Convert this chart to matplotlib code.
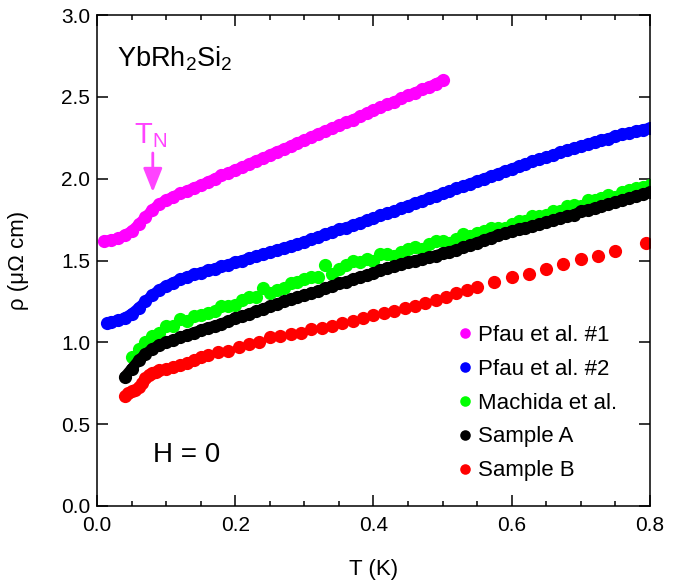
import matplotlib
matplotlib.use("Agg")
import matplotlib.pyplot as plt
from matplotlib.ticker import FormatStrFormatter

plt.rcParams["font.family"] = ["Liberation Sans", "DejaVu Sans"]
plt.rcParams["mathtext.fontset"] = "custom"
plt.rcParams["mathtext.rm"] = "Liberation Sans"

# Pfau et al. #1 (magenta)
t_pfau1 = [0.01, 0.02, 0.03, 0.04, 0.05, 0.06, 0.07, 0.08, 0.09, 0.10,
           0.11, 0.12, 0.13, 0.14, 0.15, 0.16, 0.17, 0.18, 0.19, 0.20,
           0.21, 0.22, 0.23, 0.24, 0.25, 0.26, 0.27, 0.28, 0.29, 0.30,
           0.31, 0.32, 0.33, 0.34, 0.35, 0.36, 0.37, 0.38, 0.39, 0.40,
           0.41, 0.42, 0.43, 0.44, 0.45, 0.46, 0.47, 0.48, 0.49, 0.50]
r_pfau1 = [1.62, 1.625, 1.635, 1.655, 1.68, 1.72, 1.765, 1.81, 1.845, 1.87,
           1.89, 1.91, 1.925, 1.945, 1.96, 1.98, 2.00, 2.02, 2.035, 2.055,
           2.07, 2.09, 2.11, 2.125, 2.145, 2.165, 2.18, 2.20, 2.22, 2.235,
           2.255, 2.275, 2.29, 2.31, 2.325, 2.345, 2.36, 2.38, 2.40, 2.42,
           2.435, 2.455, 2.47, 2.49, 2.51, 2.525, 2.545, 2.56, 2.58, 2.60]

# Pfau et al. #2 (blue)
t_pfau2 = [0.015, 0.02, 0.03, 0.04, 0.05, 0.06, 0.07, 0.08, 0.09, 0.10,
           0.11, 0.12, 0.13, 0.14, 0.15, 0.16, 0.17, 0.18, 0.19, 0.20,
           0.21, 0.22, 0.23, 0.24, 0.25, 0.26, 0.27, 0.28, 0.29, 0.30,
           0.31, 0.32, 0.33, 0.34, 0.35, 0.36, 0.37, 0.38, 0.39, 0.40,
           0.41, 0.42, 0.43, 0.44, 0.45, 0.46, 0.47, 0.48, 0.49, 0.50,
           0.51, 0.52, 0.53, 0.54, 0.55, 0.56, 0.57, 0.58, 0.59, 0.60,
           0.61, 0.62, 0.63, 0.64, 0.65, 0.66, 0.67, 0.68, 0.69, 0.70,
           0.71, 0.72, 0.73, 0.74, 0.75, 0.76, 0.77, 0.78, 0.79, 0.80]
r_pfau2 = [1.12, 1.125, 1.135, 1.15, 1.175, 1.21, 1.25, 1.29, 1.32, 1.345,
           1.365, 1.385, 1.40, 1.415, 1.425, 1.44, 1.45, 1.465, 1.475, 1.49,
           1.50, 1.515, 1.525, 1.54, 1.55, 1.565, 1.575, 1.59, 1.60, 1.615,
           1.63, 1.645, 1.66, 1.675, 1.69, 1.70, 1.715, 1.73, 1.745, 1.76,
           1.775, 1.79, 1.80, 1.82, 1.835, 1.85, 1.865, 1.88, 1.895, 1.91,
           1.925, 1.94, 1.955, 1.97, 1.985, 2.00, 2.015, 2.03, 2.045, 2.06,
           2.075, 2.09, 2.105, 2.12, 2.13, 2.145, 2.16, 2.175, 2.185, 2.20,
           2.21, 2.225, 2.235, 2.245, 2.26, 2.27, 2.28, 2.29, 2.30, 2.31]

# Machida et al. (green)
t_mach = [0.05, 0.06, 0.07, 0.08, 0.09, 0.10, 0.11, 0.12, 0.13, 0.14,
          0.15, 0.16, 0.17, 0.18, 0.19, 0.20, 0.21, 0.22, 0.23, 0.24,
          0.25, 0.26, 0.27, 0.28, 0.29, 0.30, 0.31, 0.32, 0.33, 0.34,
          0.35, 0.36, 0.37, 0.38, 0.39, 0.40, 0.41, 0.42, 0.43, 0.44,
          0.45, 0.46, 0.47, 0.48, 0.49, 0.50, 0.51, 0.52, 0.53, 0.54,
          0.55, 0.56, 0.57, 0.58, 0.59, 0.60, 0.61, 0.62, 0.63, 0.64,
          0.65, 0.66, 0.67, 0.68, 0.69, 0.70, 0.71, 0.72, 0.73, 0.74,
          0.75, 0.76, 0.77, 0.78, 0.79, 0.80]
r_mach = [0.91, 0.96, 1.00, 1.04, 1.06, 1.10, 1.10, 1.14, 1.13, 1.16,
          1.17, 1.18, 1.19, 1.22, 1.22, 1.23, 1.26, 1.28, 1.28, 1.33,
          1.30, 1.32, 1.33, 1.36, 1.37, 1.39, 1.40, 1.40, 1.47, 1.42,
          1.45, 1.47, 1.50, 1.49, 1.51, 1.50, 1.54, 1.54, 1.53, 1.55,
          1.57, 1.58, 1.57, 1.60, 1.62, 1.62, 1.61, 1.63, 1.66, 1.65,
          1.67, 1.68, 1.70, 1.70, 1.70, 1.72, 1.74, 1.74, 1.77, 1.77,
          1.78, 1.80, 1.80, 1.83, 1.84, 1.83, 1.87, 1.87, 1.88, 1.90,
          1.89, 1.92, 1.93, 1.94, 1.95, 1.96]

# Sample A (black)
t_sa = [0.04, 0.05, 0.06, 0.07, 0.08, 0.09, 0.10, 0.11, 0.12, 0.13,
        0.14, 0.15, 0.16, 0.17, 0.18, 0.19, 0.20, 0.21, 0.22, 0.23,
        0.24, 0.25, 0.26, 0.27, 0.28, 0.29, 0.30, 0.31, 0.32, 0.33,
        0.34, 0.35, 0.36, 0.37, 0.38, 0.39, 0.40, 0.41, 0.42, 0.43,
        0.44, 0.45, 0.46, 0.47, 0.48, 0.49, 0.50, 0.51, 0.52, 0.53,
        0.54, 0.55, 0.56, 0.57, 0.58, 0.59, 0.60, 0.61, 0.62, 0.63,
        0.64, 0.65, 0.66, 0.67, 0.68, 0.69, 0.70, 0.71, 0.72, 0.73,
        0.74, 0.75, 0.76, 0.77, 0.78, 0.79, 0.80]
r_sa = [0.79, 0.84, 0.89, 0.93, 0.96, 0.985, 1.00, 1.015, 1.03, 1.045,
        1.06, 1.075, 1.09, 1.10, 1.115, 1.13, 1.15, 1.16, 1.175, 1.19,
        1.205, 1.22, 1.235, 1.25, 1.265, 1.275, 1.29, 1.30, 1.315, 1.33,
        1.345, 1.36, 1.37, 1.385, 1.40, 1.41, 1.425, 1.44, 1.455, 1.465,
        1.48, 1.49, 1.50, 1.51, 1.52, 1.53, 1.545, 1.555, 1.565, 1.58,
        1.595, 1.61, 1.625, 1.64, 1.655, 1.665, 1.68, 1.69, 1.70, 1.71,
        1.72, 1.735, 1.745, 1.76, 1.77, 1.78, 1.80, 1.81, 1.82, 1.83,
        1.845, 1.855, 1.87, 1.88, 1.895, 1.905, 1.92]

# Sample B (red)
t_sb = [0.04, 0.045, 0.05, 0.055, 0.06, 0.065, 0.07, 0.075, 0.08, 0.085,
        0.09, 0.10, 0.11, 0.12, 0.13, 0.14, 0.15, 0.16, 0.175, 0.19,
        0.205, 0.22, 0.235, 0.25, 0.265, 0.28, 0.295, 0.31, 0.325, 0.34,
        0.355, 0.37, 0.385, 0.40, 0.415, 0.43, 0.445, 0.46, 0.475, 0.49,
        0.505, 0.52, 0.535, 0.55, 0.575, 0.60, 0.625, 0.65, 0.675, 0.70,
        0.725, 0.75, 0.795]
r_sb = [0.67, 0.69, 0.70, 0.71, 0.73, 0.75, 0.78, 0.80, 0.81, 0.82,
        0.83, 0.84, 0.85, 0.86, 0.875, 0.89, 0.91, 0.92, 0.94, 0.95,
        0.97, 0.99, 1.00, 1.03, 1.04, 1.05, 1.06, 1.08, 1.09, 1.10,
        1.12, 1.13, 1.15, 1.17, 1.18, 1.19, 1.21, 1.22, 1.24, 1.26,
        1.28, 1.30, 1.32, 1.34, 1.37, 1.40, 1.42, 1.45, 1.48, 1.51,
        1.53, 1.56, 1.61]

# (x, y, colour, label, draw as continuous band)
series = [
    (t_pfau1, r_pfau1, "#ff00ff", "Pfau et al. #1", True),
    (t_pfau2, r_pfau2, "#0000ff", "Pfau et al. #2", True),
    (t_mach, r_mach, "#00ff00", "Machida et al.", False),
    (t_sa, r_sa, "#000000", "Sample A", True),
    (t_sb, r_sb, "#ff0000", "Sample B", False),
]

fig = plt.figure(figsize=(6.79, 5.82), dpi=100)
ax = fig.add_axes([0.143, 0.1306, 0.814, 0.8436])

for t, r, c, lab, band in series:
    if band:
        ax.plot(t, r, "-", color=c, lw=7.5, solid_capstyle="round")
    ax.plot(t, r, "o", color=c, ms=9.5, mew=0, label=lab)

ax.set_xlim(0, 0.8)
ax.set_ylim(0, 3.0)
ax.set_xticks([0.0, 0.2, 0.4, 0.6, 0.8])
ax.set_xticks([i * 0.05 for i in range(17)], minor=True)
ax.set_yticks([0.0, 0.5, 1.0, 1.5, 2.0, 2.5, 3.0])
ax.xaxis.set_major_formatter(FormatStrFormatter("%.1f"))
ax.yaxis.set_major_formatter(FormatStrFormatter("%.1f"))
ax.tick_params(which="both", direction="in", top=True, right=True,
               labelsize=15, width=1.1)
ax.tick_params(which="major", length=8)
ax.tick_params(which="minor", length=3.6)
ax.tick_params(axis="x", which="major", pad=7.5)
ax.tick_params(axis="y", which="major", pad=5)
for s in ax.spines.values():
    s.set_linewidth(1.1)

ax.set_xlabel("T (K)", fontsize=16, labelpad=17)
ax.set_ylabel("ρ (μΩ cm)", fontsize=16, labelpad=23)

ax.text(0.029, 2.683, "YbRh$_2$Si$_2$", fontsize=19.5)
ax.text(0.081, 0.269, "H = 0", fontsize=20)
ax.text(0.0535, 2.218, "T$_\\mathregular{N}$", fontsize=21, color="#ff44ff")
ax.annotate("", xy=(0.0806, 1.918), xytext=(0.0806, 2.157),
            arrowprops=dict(arrowstyle="-|>,head_width=0.58,head_length=1.45",
                            color="#ff44ff", lw=2, shrinkA=0, shrinkB=0))

ax.legend(loc="upper left", bbox_to_anchor=(0.649, 0.369), frameon=False,
          fontsize=16, handlelength=0.8, handletextpad=0.2, markerscale=0.8,
          labelspacing=0.58, borderpad=0, borderaxespad=0)

fig.savefig("out.png", dpi=100)
